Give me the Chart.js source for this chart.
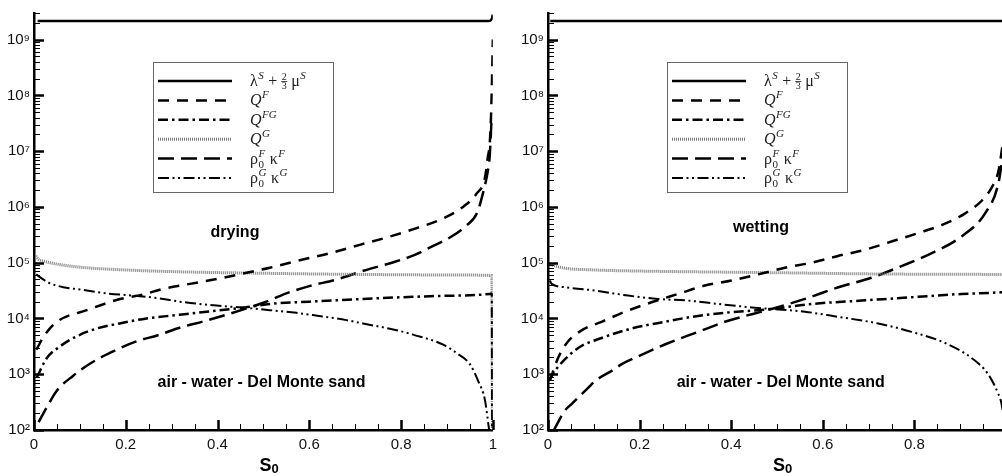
<!DOCTYPE html>
<html>
<head>
<meta charset="utf-8">
<script src="https://cdn.jsdelivr.net/npm/chart.js@4.4.1/dist/chart.umd.min.js"></script>
<style>
html, body { margin:0; padding:0; background:#fff; width:1002px; height:476px; overflow:hidden; position:relative; }
.panel { position:absolute; top:0; width:500px; height:476px; }
#p1 { left:0; }
#p2 { left:514px; }
</style>
</head>
<body>
<div class="panel" id="p1"><canvas id="dry"></canvas></div>
<div class="panel" id="p2"><canvas id="wet"></canvas></div>
<script>
// axes
const yTicks = [1e2, 1e3, 1e4, 1e5, 1e6, 1e7, 1e8, 1e9];
const xTicks = [0, 0.2, 0.4, 0.6, 0.8, 1];
const yMin = 1e2, yMax = 3e9;

const seriesNames = ["λ^S + 2/3 μ^S", "Q^F", "Q^FG", "Q^G", "ρ0^F κ^F", "ρ0^G κ^G"];

// ---- drying (left) ----
const dryLamS = [0.008, 0.5, 0.99, 0.995, 0.998, 1.0];
const dryLamV = [2.15e9, 2.15e9, 2.15e9, 2.2e9, 2.4e9, 2.8e9];

const dryQFS = [0.005, 0.024, 0.05, 0.115, 0.18, 0.237, 0.281, 0.34, 0.412, 0.463, 0.514, 0.572, 0.645, 0.71, 0.776, 0.834, 0.891, 0.935, 0.964, 0.983, 0.989, 0.993, 0.996, 0.998, 1.0];
const dryQFV = [2.75e3, 5.13e3, 8.71e3, 1.41e4, 2.14e4, 2.69e4, 3.39e4, 4.17e4, 5.37e4, 6.61e4, 8.13e4, 1.07e5, 1.48e5, 2.09e5, 2.95e5, 4.17e5, 6.17e5, 1.0e6, 1.7e6, 3.39e6, 7.76e6, 1.29e7, 4.0e7, 1.6e8, 1.0e9];

const dryQFGS = [0.006, 0.028, 0.057, 0.093, 0.137, 0.187, 0.245, 0.311, 0.376, 0.46, 0.514, 0.6, 0.717, 0.863, 0.993, 0.998, 0.999];
const dryQFGV = [871, 1950, 3162, 4786, 6607, 8128, 1.0e4, 1.15e4, 1.32e4, 1.58e4, 1.82e4, 2.0e4, 2.24e4, 2.51e4, 2.75e4, 2.8e4, 100];

const dryQGS = [0.004, 0.01, 0.02, 0.04, 0.1, 0.2, 0.3, 0.5, 0.7, 0.9, 0.998, 0.999];
const dryQGV = [1.32e5, 1.15e5, 1.07e5, 9.77e4, 8.32e4, 7.41e4, 6.92e4, 6.46e4, 6.17e4, 6.03e4, 5.89e4, 100];

const dryRFS = [0.01, 0.028, 0.05, 0.085, 0.12, 0.17, 0.22, 0.27, 0.32, 0.37, 0.42, 0.47, 0.5, 0.55, 0.6, 0.66, 0.72, 0.78, 0.83, 0.87, 0.91, 0.94, 0.965, 0.978, 0.989, 0.993, 0.997];
const dryRFV = [138, 257, 513, 933, 1514, 2512, 3802, 5012, 6918, 8913, 1.17e4, 1.58e4, 1.91e4, 2.82e4, 3.8e4, 5.01e4, 7.24e4, 1.0e5, 1.38e5, 2.0e5, 2.95e5, 4.47e5, 7.59e5, 1.7e6, 4.37e6, 7.76e6, 3.2e7];

const dryRGS = [0.005, 0.02, 0.035, 0.064, 0.1, 0.158, 0.231, 0.282, 0.318, 0.398, 0.463, 0.514, 0.572, 0.608, 0.681, 0.717, 0.79, 0.826, 0.892, 0.921, 0.95, 0.968, 0.983, 0.99, 0.992];
const dryRGV = [6.17e4, 5.01e4, 4.27e4, 3.63e4, 3.31e4, 2.82e4, 2.51e4, 2.24e4, 2.0e4, 1.7e4, 1.55e4, 1.41e4, 1.26e4, 1.15e4, 9333, 8128, 6166, 5129, 3388, 2400, 1514, 759, 339, 132, 100];

// ---- wetting (right) ----
const wetLamS = [0.005, 1.0];
const wetLamV = [2.15e9, 2.15e9];

const wetQFS = [0.004, 0.022, 0.044, 0.074, 0.117, 0.168, 0.226, 0.284, 0.343, 0.401, 0.459, 0.517, 0.576, 0.633, 0.692, 0.75, 0.808, 0.867, 0.91, 0.947, 0.969, 0.983, 0.99, 0.996, 1.0];
const wetQFV = [759, 1950, 3890, 6166, 8710, 1.32e4, 1.95e4, 2.75e4, 3.89e4, 4.79e4, 6.17e4, 8.13e4, 1.0e5, 1.32e5, 1.7e5, 2.4e5, 3.39e5, 5.01e5, 7.59e5, 1.29e6, 2.24e6, 4.2e6, 9.3e6, 2.5e7, 1.0e8];

const wetQFGS = [0.002, 0.015, 0.066, 0.117, 0.183, 0.255, 0.314, 0.372, 0.488, 0.576, 0.685, 0.794, 0.903, 0.99, 1.0];
const wetQFGV = [759, 1148, 2951, 4467, 6607, 8710, 1.07e4, 1.23e4, 1.48e4, 1.82e4, 2.09e4, 2.4e4, 2.75e4, 2.95e4, 3.0e4];

const wetQGS = [0.005, 0.03, 0.1, 0.2, 0.5, 0.7, 0.99, 1.0];
const wetQGV = [9.33e4, 8.13e4, 7.41e4, 7.08e4, 6.61e4, 6.3e4, 6.17e4, 6.17e4];

const wetRFS = [0.013, 0.037, 0.052, 0.088, 0.103, 0.139, 0.161, 0.205, 0.263, 0.328, 0.386, 0.488, 0.561, 0.634, 0.706, 0.772, 0.838, 0.903, 0.954, 0.983, 0.99, 1.0];
const wetRFV = [100, 224, 295, 575, 759, 1148, 1514, 2239, 3631, 5754, 8710, 1.48e4, 2.24e4, 3.63e4, 5.37e4, 8.71e4, 1.48e5, 2.95e5, 7.59e5, 2.57e6, 5.75e6, 4.0e7];

const wetRGS = [0.004, 0.008, 0.037, 0.103, 0.175, 0.24, 0.306, 0.371, 0.445, 0.488, 0.561, 0.633, 0.721, 0.794, 0.867, 0.925, 0.961, 0.983, 0.99, 0.995, 0.998];
const wetRGV = [4.79e4, 4.17e4, 3.63e4, 3.16e4, 2.57e4, 2.24e4, 2.09e4, 1.82e4, 1.58e4, 1.48e4, 1.32e4, 1.07e4, 8128, 5754, 3631, 1950, 1000, 447, 302, 158, 100];

// line styles, one per series
const lineStyles = [
  { color: "#000", width: 2.5, dash: [] },
  { color: "#000", width: 2.5, dash: [11, 8] },
  { color: "#000", width: 2.5, dash: [10, 4, 2.5, 4] },
  { color: "#7a7a7a", width: 3, dash: [1, 1] },
  { color: "#000", width: 2.5, dash: [16, 7] },
  { color: "#000", width: 2, dash: [11, 3.5, 2, 3.5, 2, 3.5] }
];

// legend text pieces: [text, kind, text2]
const legendParts = [
  [["λ"], ["S", "sup"], [" + "], ["2", "frac", "3"], [" μ"], ["S", "sup"]],
  [["Q", "it"], ["F", "sup"]],
  [["Q", "it"], ["FG", "sup"]],
  [["Q", "it"], ["G", "sup"]],
  [["ρ"], ["0", "subsup", "F"], [" κ"], ["F", "sup"]],
  [["ρ"], ["0", "subsup", "G"], [" κ"], ["G", "sup"]]
];

const SUP = { "0": "⁰", "1": "¹", "2": "²", "3": "³", "4": "⁴", "5": "⁵", "6": "⁶", "7": "⁷", "8": "⁸", "9": "⁹" };
const SANS = '"Liberation Sans", Arial, sans-serif';
const SERIF = '"Liberation Serif", "Times New Roman", serif';

function mk(s, v, i){
  const st = lineStyles[i];
  return {
    label: seriesNames[i],
    data: s.map((x, k) => ({ x: x, y: v[k] })),
    borderColor: st.color, borderWidth: st.width, borderDash: st.dash,
    pointRadius: 0, fill: false, cubicInterpolationMode: "monotone"
  };
}

function drawRich(ctx, x, y, parts){
  ctx.fillStyle = "#222";
  ctx.textAlign = "left";
  ctx.textBaseline = "alphabetic";
  for (const [t, kind, t2] of parts){
    if (kind === "sup"){
      ctx.font = "italic 11px " + SERIF;
      ctx.fillText(t, x + 0.5, y - 7);
      x += ctx.measureText(t).width + 1;
    } else if (kind === "frac"){
      ctx.font = "10px " + SERIF;
      const w = Math.max(ctx.measureText(t).width, ctx.measureText(t2).width) + 1;
      ctx.fillText(t, x + 0.5, y - 6);
      ctx.fillText(t2, x + 0.5, y + 3);
      ctx.fillRect(x, y - 5, w, 0.8);
      x += w;
    } else if (kind === "subsup"){
      ctx.font = "11px " + SERIF;
      ctx.fillText(t, x + 0.5, y + 4);
      const w1 = ctx.measureText(t).width;
      ctx.font = "italic 11px " + SERIF;
      ctx.fillText(t2, x + 0.5, y - 7);
      x += Math.max(w1, ctx.measureText(t2).width) + 1;
    } else {
      ctx.font = (kind === "it" ? "italic " : "") + "16px " + SERIF;
      ctx.fillText(t, x, y);
      x += ctx.measureText(t).width;
    }
  }
}

const decor = {
  id: "decor",
  afterDraw(chart, args, o){
    const ctx = chart.ctx, xs = chart.scales.x, ys = chart.scales.y, a = chart.chartArea;
    ctx.save();
    ctx.strokeStyle = "#000";
    ctx.setLineDash([]);
    // inward ticks on y
    for (let e = 2; e <= 9; e++){
      for (let k = 1; k <= 9; k++){
        const v = k * Math.pow(10, e);
        if (v > yMax * 1.0001) break;
        const py = Math.round(ys.getPixelForValue(v)) + 0.5;
        const major = k === 1;
        ctx.lineWidth = major ? 2.5 : 1;
        ctx.beginPath(); ctx.moveTo(a.left, py); ctx.lineTo(a.left + (major ? 10 : 6), py); ctx.stroke();
      }
    }
    // inward ticks on x
    for (let i = 0; i <= 20; i++){
      const px = Math.round(xs.getPixelForValue(i / 20)) + 0.5;
      const major = i % 4 === 0;
      ctx.lineWidth = major ? 2.5 : 1;
      ctx.beginPath(); ctx.moveTo(px, a.bottom); ctx.lineTo(px, a.bottom - (major ? 10 : 6)); ctx.stroke();
    }
    // annotations
    ctx.fillStyle = "#000";
    ctx.font = "bold 16px " + SANS;
    ctx.textAlign = "center"; ctx.textBaseline = "middle";
    ctx.fillText(o.tag, xs.getPixelForValue(o.tagAt[0]), ys.getPixelForValue(o.tagAt[1]));
    ctx.fillText("air - water - Del Monte sand", xs.getPixelForValue(o.noteAt[0]), ys.getPixelForValue(o.noteAt[1]));
    // axis title S0
    const cx = (a.left + a.right) / 2 - 4;
    ctx.textAlign = "left"; ctx.textBaseline = "alphabetic";
    ctx.font = "bold 18px " + SANS;
    ctx.fillText("S", cx, 471);
    const sw = ctx.measureText("S").width;
    ctx.font = "bold 13px " + SANS;
    ctx.fillText("0", cx + sw, 473);
    // legend box
    const L = a.left + 119, T = 62, W = 180, H = 130;
    ctx.fillStyle = "#fff"; ctx.fillRect(L, T, W, H);
    ctx.strokeStyle = "#666"; ctx.lineWidth = 1;
    ctx.strokeRect(L + 0.5, T + 0.5, W, H);
    chart.data.datasets.forEach((ds, i) => {
      const cy = T + 19 + i * 19.4;
      ctx.strokeStyle = ds.borderColor; ctx.lineWidth = ds.borderWidth;
      ctx.setLineDash(ds.borderDash);
      ctx.beginPath(); ctx.moveTo(L + 5, cy); ctx.lineTo(L + 79, cy); ctx.stroke();
      ctx.setLineDash([]);
      drawRich(ctx, L + 97, cy + 5, legendParts[i]);
    });
    ctx.restore();
  }
};

function makeChart(id, sets, deco, padRight){
  return new Chart(document.getElementById(id), {
    type: "line",
    data: { datasets: sets },
    plugins: [decor],
    options: {
      responsive: true, maintainAspectRatio: false, animation: false,
      layout: { padding: { top: 7, right: padRight, left: 0, bottom: 0 } },
      plugins: { legend: { display: false }, tooltip: { enabled: false }, decor: deco },
      scales: {
        x: {
          type: "linear", min: 0, max: 1,
          afterBuildTicks: s => { s.ticks = xTicks.map(v => ({ value: v })); },
          afterFit: s => { s.height = 46; },
          ticks: { callback: v => String(v), color: "#111", font: { family: SANS, size: 15, lineHeight: 1.6 }, padding: 3, maxRotation: 0, autoSkip: false },
          grid: { display: false, drawTicks: false },
          border: { display: true, color: "#000", width: 2.5 }
        },
        y: {
          type: "logarithmic", min: yMin, max: yMax,
          afterBuildTicks: s => { s.ticks = yTicks.map(v => ({ value: v })); },
          afterFit: s => { s.width = 34; },
          ticks: { callback: v => "10" + SUP[String(Math.round(Math.log10(v)))], color: "#111", font: { family: SANS, size: 15 }, padding: 4, autoSkip: false },
          grid: { display: false, drawTicks: false },
          border: { display: true, color: "#000", width: 2.5 }
        }
      }
    }
  });
}

makeChart("dry", [
  mk(dryLamS, dryLamV, 0), mk(dryQFS, dryQFV, 1), mk(dryQFGS, dryQFGV, 2),
  mk(dryQGS, dryQGV, 3), mk(dryRFS, dryRFV, 4), mk(dryRGS, dryRGV, 5)
], { tag: "drying", tagAt: [0.438, 3.5e5], noteAt: [0.496, 710] }, 7);

makeChart("wet", [
  mk(wetLamS, wetLamV, 0), mk(wetQFS, wetQFV, 1), mk(wetQFGS, wetQFGV, 2),
  mk(wetQGS, wetQGV, 3), mk(wetRFS, wetRFV, 4), mk(wetRGS, wetRGV, 5)
], { tag: "wetting", tagAt: [0.465, 4.2e5], noteAt: [0.508, 700] }, 8);
</script>
</body>
</html>
